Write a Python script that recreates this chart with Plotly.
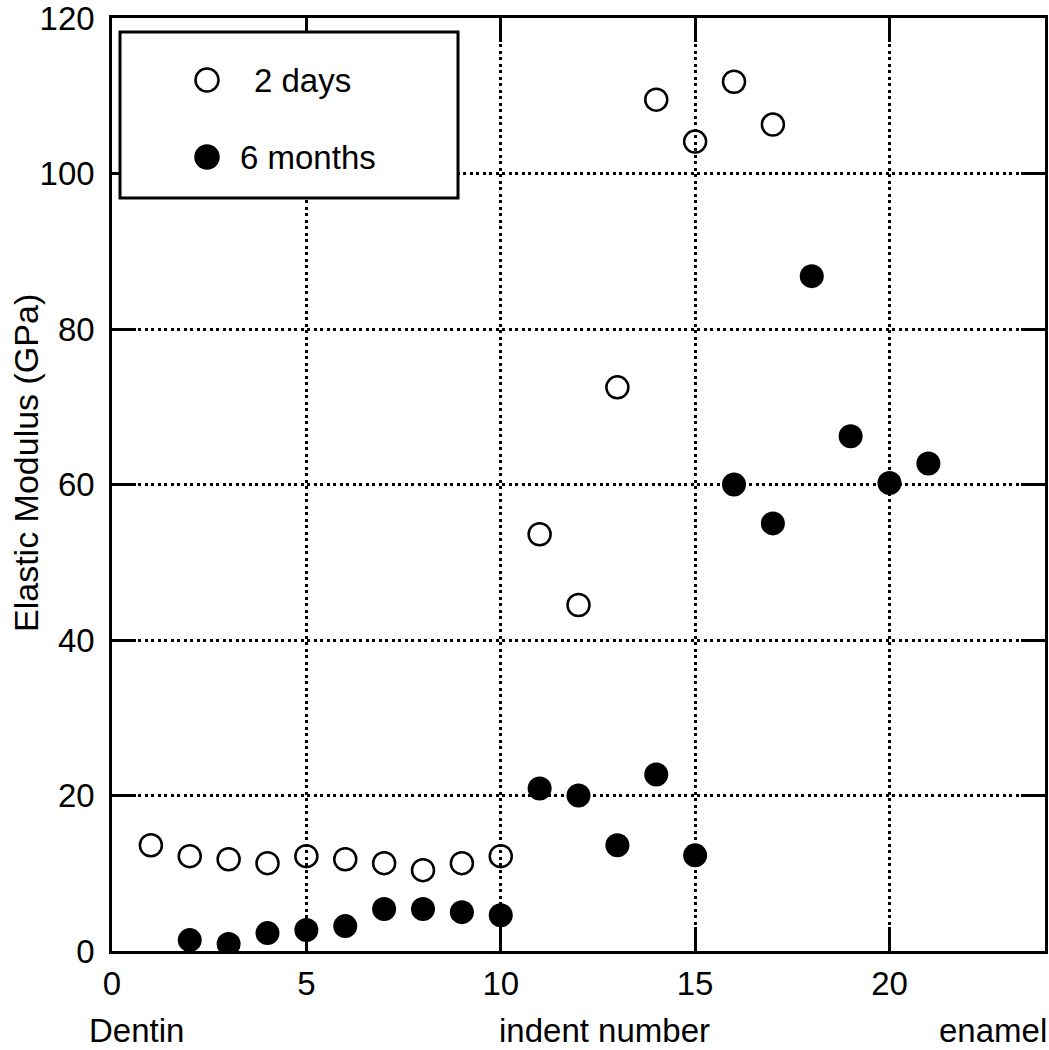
import plotly.graph_objects as go

# ---- data ----
series_names = ["2 days", "6 months"]
days2_x = [1, 2, 3, 4, 5, 6, 7, 8, 9, 10, 11, 12, 13, 14, 15, 16, 17]
days2_y = [13.6, 12.2, 11.8, 11.3, 12.2, 11.8, 11.3, 10.4, 11.3, 12.2,
           53.6, 44.5, 72.5, 109.5, 104.1, 111.8, 106.3]
months6_x = [2, 3, 4, 5, 6, 7, 8, 9, 10, 11, 12, 13, 14, 15, 16, 17, 18, 19, 20, 21]
months6_y = [1.4, 0.9, 2.3, 2.7, 3.2, 5.4, 5.4, 5.0, 4.6, 20.9, 20.0, 13.6,
             22.7, 12.3, 60.0, 55.0, 86.8, 66.2, 60.2, 62.7]
x_ticks = [0, 5, 10, 15, 20]
y_ticks = [0, 20, 40, 60, 80, 100, 120]
y_title = "Elastic Modulus (GPa)"
x_labels = ["Dentin", "indent number", "enamel"]

FONT = "Liberation Sans, Arial, Helvetica, sans-serif"

fig = go.Figure()
fig.add_trace(go.Scatter(
    x=days2_x, y=days2_y, mode="markers", name=series_names[0],
    marker=dict(symbol="circle-open", size=22, color="black",
                line=dict(width=2.5, color="black")),
    showlegend=False))
fig.add_trace(go.Scatter(
    x=months6_x, y=months6_y, mode="markers", name=series_names[1],
    marker=dict(symbol="circle", size=24, color="black"),
    showlegend=False))

axis_common = dict(
    showline=True, linewidth=2.5, linecolor="black", mirror="ticks",
    ticks="inside", ticklen=24, tickwidth=2.5, tickcolor="black",
    showgrid=True, gridcolor="black", gridwidth=2.5, griddash="3px,3.5px",
    zeroline=False, tickfont=dict(family=FONT, size=33, color="black"),
    ticklabeloverflow="allow", automargin=False,
)
fig.update_xaxes(range=[0, 24], tickvals=x_ticks, ticklabelstandoff=2, **axis_common)
fig.update_yaxes(range=[0, 120], tickvals=y_ticks, ticklabelstandoff=8, **axis_common)

W, H = 1049, 1050
L, T = 112, 18
R = W - 1045
B = H - 951
pw, ph = W - L - R, H - T - B

def px(xp):
    return (xp - L) / pw

def py(yp):
    return (H - B - yp) / ph

shapes = [
    dict(type="rect", xref="paper", yref="paper", x0=px(120), x1=px(458),
         y0=py(198), y1=py(32), line=dict(color="black", width=3),
         fillcolor="white", layer="above"),
]
r = 11.5
for cy, fill in [(80, "white"), (157, "black")]:
    shapes.append(dict(type="circle", xref="paper", yref="paper",
                       xsizemode="pixel", ysizemode="pixel",
                       xanchor=px(207), yanchor=py(cy),
                       x0=-r, x1=r, y0=-r, y1=r,
                       line=dict(color="black", width=2.5),
                       fillcolor=fill, layer="above"))

def ann(text, x, y, xanchor, size, angle=0):
    return dict(text=text, x=px(x), y=py(y), xref="paper", yref="paper",
                xanchor=xanchor, yanchor="middle", textangle=angle,
                showarrow=False, borderpad=0,
                font=dict(family=FONT, size=size, color="black"))

annotations = [
    ann(series_names[0], 253, 80, "left", 33),
    ann(series_names[1], 239, 157, "left", 33),
    ann(y_title, 26, 463, "center", 34, -90),
    ann(x_labels[0], 88, 1030, "left", 33),
    ann(x_labels[1], 498, 1030, "left", 33),
    ann(x_labels[2], 1048, 1030, "right", 33),
]

fig.update_layout(
    width=W, height=H,
    margin=dict(l=L, r=R, t=T, b=B, autoexpand=False),
    paper_bgcolor="white", plot_bgcolor="white",
    shapes=shapes, annotations=annotations,
    showlegend=False,
)

fig.write_html(
    "out.html",
    config={"displayModeBar": False},
    post_script="document.body.style.margin='0';document.body.style.overflow='hidden';",
)
